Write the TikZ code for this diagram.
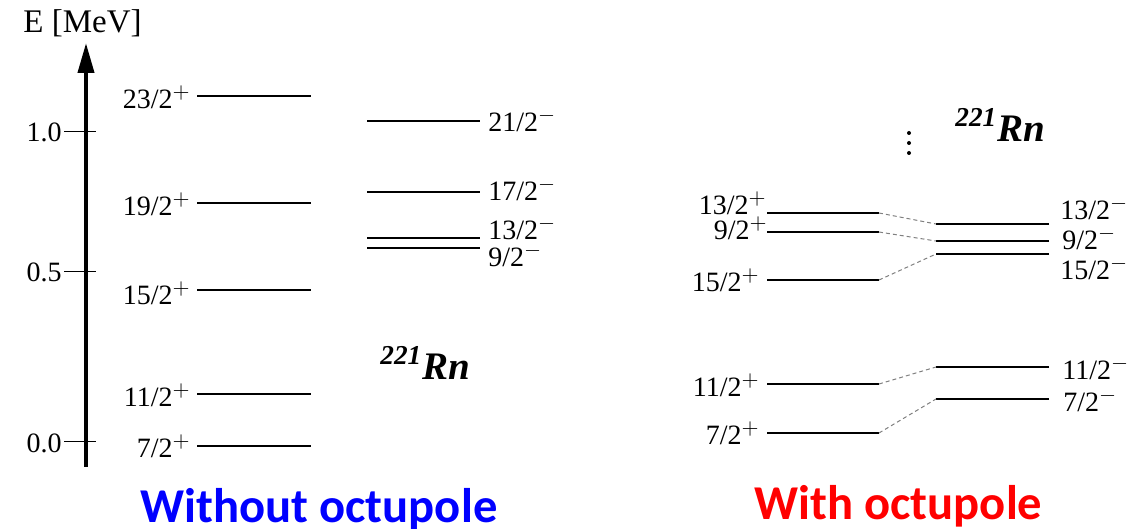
\documentclass[tikz,border=0pt]{standalone}
\usepackage{fontspec}
\setmainfont{Liberation Serif}
\newfontfamily\capfont{Carlito}
\DeclareMathSizes{14}{14}{11}{8}
\usetikzlibrary{arrows.meta}

\tikzset{
  lvl/.style={line width=1pt},
  jlab/.style={font=\fontsize{14}{16}\selectfont,inner sep=0pt},
  link/.style={gray,line width=0.5pt,dash pattern=on 2pt off 1.5pt},
  nucl/.style={font=\fontsize{19.5}{22}\selectfont\bfseries\itshape,inner sep=0pt,anchor=base west},
  caption/.style={font=\fontsize{24.3}{28}\selectfont\capfont\bfseries,inner sep=0pt,anchor=base west}
}

\begin{document}
\begin{tikzpicture}[x=0.5pt,y=-0.5pt]
  \useasboundingbox (0,0) rectangle (1142,529);
  % energy axis
  \draw[line width=2pt,-{Triangle[length=15pt,width=8pt]}] (86,467) -- (86,43);
  \node[font=\fontsize{16.5}{19}\selectfont,inner sep=0pt,anchor=base west] at (23,33) {E [MeV]};
  \foreach \y/\v in {132/1.0,272/0.5,442/0.0}{
    \draw[line width=0.5pt] (64,\y) -- (96,\y);
    \node[jlab,anchor=base east] at (62,\y+10) {\v};
  }

  % without octupole: positive parity band
  \foreach \y/\j/\b in {96/23/109,203/19/216,290/15/305,394/11/407,446/7/458}{
    \draw[lvl] (197,\y) -- (311,\y);
    \node[jlab,anchor=base east] at (191,\b) {\j/2$^{+}$};
  }
  % without octupole: negative parity band
  \foreach \y/\j/\b in {121/21/132,192/17/201,238/13/240,248/9/267}{
    \draw[lvl] (367,\y) -- (480,\y);
    \node[jlab,anchor=base west] at (488,\b) {\j/2$^{-}$};
  }
  \node[nucl] (rnA) at (380,380) {\textsuperscript{221}Rn};

  % with octupole: parity doublets
  \foreach \n/\y in {a/213,b/232,c/280,d/384,e/433}{
    \draw[lvl] (767,\y) -- (879,\y) coordinate (p\n);
  }
  \foreach \n/\y in {a/224,b/241,c/254,d/367,e/399}{
    \draw[lvl] (1049,\y) -- (936,\y) coordinate (m\n);
  }
  \node[jlab,anchor=base east] at (767,215) {13/2$^{+}$};
  \node[jlab,anchor=base east] at (768,240) {9/2$^{+}$};
  \node[jlab,anchor=base east] at (760,292) {15/2$^{+}$};
  \node[jlab,anchor=base east] at (760,397) {11/2$^{+}$};
  \node[jlab,anchor=base east] at (760,445) {7/2$^{+}$};
  \node[jlab,anchor=base west] at (1060,220) {13/2$^{-}$};
  \node[jlab,anchor=base west] at (1062,250) {9/2$^{-}$};
  \node[jlab,anchor=base west] at (1060,280) {15/2$^{-}$};
  \node[jlab,anchor=base west] at (1062,380) {11/2$^{-}$};
  \node[jlab,anchor=base west] at (1063,412) {7/2$^{-}$};
  \foreach \n in {a,b,c,d,e}
    \draw[link] (p\n) -- (m\n);

  % more levels above
  \foreach \y in {133,143,153}
    \fill (909,\y) circle[radius=1pt];
  \node[nucl] (rnB) at (955,142) {\textsuperscript{221}Rn};

  % captions
  \node[caption,text={rgb,255:red,0;green,0;blue,255}] (capA) at (140,523) {Without octupole};
  \node[caption,text={rgb,255:red,255;green,0;blue,0}] (capB) at (754,520) {With octupole};
\end{tikzpicture}
\end{document}
